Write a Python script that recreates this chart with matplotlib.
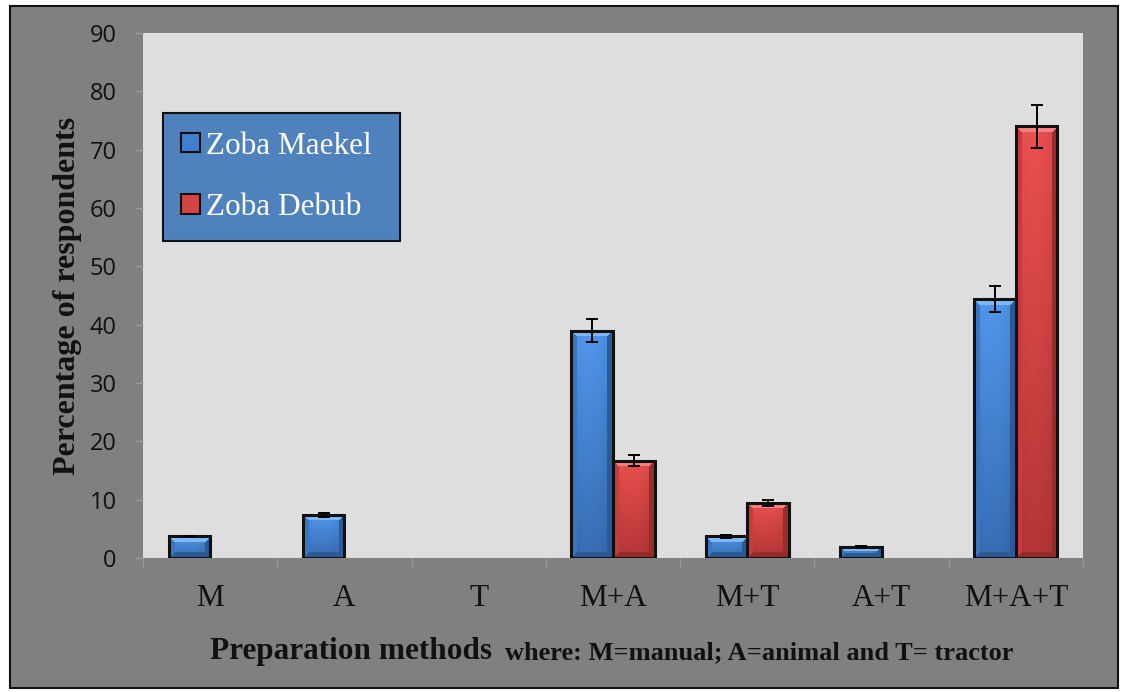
"""Soil preparation methods by zoba, grouped bar chart."""
import numpy as np
import matplotlib
matplotlib.use('Agg')
from matplotlib import pyplot as plt
from matplotlib.patches import Rectangle, Patch
from matplotlib.ticker import MultipleLocator

categories = ['M', 'A', 'T', 'M+A', 'M+T', 'A+T', 'M+A+T']
maekel = [3.7, 7.4, 0, 39.0, 3.7, 1.9, 44.4]
debub = [0, 0, 0, 16.7, 9.5, 0, 74.0]
maekel_err = [0.15, 0.4, 0, 1.9, 0.3, 0.1, 2.2]
debub_err = [0, 0, 0, 0.9, 0.5, 0, 3.7]
series_names = ['Zoba Maekel', 'Zoba Debub']

SERIF = 'Liberation Serif'
BLUE = dict(top='#4b8ddc', bot='#3466a8', hi='#7cbaf6', left='#3b76c2',
            right='#2b5a98', bottom='#2d5a92', legend='#3f80d0')
RED = dict(top='#dc4b4b', bot='#a83232', hi='#f58080', left='#c43c3c',
           right='#9c2a2a', bottom='#952828', legend='#d44444')


def rgb(c):
    return np.array(matplotlib.colors.to_rgb(c))


def bevel_image(w, h, pal, b=6):
    """Return an RGB array that looks like an Excel bevelled bar."""
    w, h = max(int(round(w)), 2), max(int(round(h)), 2)
    b = max(1, min(b, h // 2, w // 2))
    i = np.arange(h)[:, None] * np.ones((1, w))
    j = np.ones((h, 1)) * np.arange(w)[None, :]
    t = (i / (h - 1))[..., None]
    img = rgb(pal['top']) * (1 - t) + rgb(pal['bot']) * t
    # soft horizontal shading: lighter a bit left of centre
    u = j / (w - 1)
    shade = 1.0 + 0.07 * np.cos((u - 0.4) * np.pi)
    img = np.clip(img * shade[..., None], 0, 1)
    dists = np.stack([i, j, w - 1 - j, h - 1 - i])
    nearest = np.argmin(dists, axis=0)
    inside = dists.min(axis=0) < b
    for k, key in enumerate(['hi', 'left', 'right', 'bottom']):
        mask = inside & (nearest == k)
        img[mask] = rgb(pal[key])
    return img


def bevel_bars(ax, bars, pal):
    for patch in bars:
        x0, y0 = patch.get_x(), patch.get_y()
        x1, y1 = x0 + patch.get_width(), y0 + patch.get_height()
        if patch.get_height() <= 0:
            continue
        (px0, py0), (px1, py1) = ax.transData.transform([(x0, y0), (x1, y1)])
        img = bevel_image(px1 - px0, py1 - py0, pal)
        ax.imshow(img, extent=(x0, x1, y0, y1), origin='upper',
                  aspect='auto', interpolation='nearest', zorder=2)


fig = plt.figure(figsize=(11.22, 6.92), dpi=100, facecolor='white')
fig.patches.append(Rectangle((10 / 1122, 4 / 692), 1108 / 1122, 682 / 692,
                             transform=fig.transFigure, facecolor='#808080',
                             edgecolor='#111111', linewidth=1.5, zorder=-10))

ax = fig.add_axes([143 / 1122, 134 / 692, 940 / 1122, 525 / 692])
ax.set_facecolor('#dedede')
for s in ax.spines.values():
    s.set_visible(False)

x = np.arange(len(categories))
width = 0.31
ax.set_xlim(-0.5, len(categories) - 0.5)
ax.set_ylim(0, 90)

groups = [(maekel, maekel_err, -width / 2, BLUE),
          (debub, debub_err, width / 2, RED)]
for vals, errs, off, pal in groups:
    edges = ['#111111' if v > 0 else 'none' for v in vals]
    bars = ax.bar(x + off, vals, width, facecolor='none', edgecolor=edges,
                  linewidth=2.2, zorder=3)
    bevel_bars(ax, bars, pal)
    keep = [k for k, v in enumerate(vals) if v > 0]
    ax.errorbar(x[keep] + off, np.array(vals)[keep],
                yerr=np.array(errs)[keep], fmt='none', ecolor='black',
                elinewidth=1.4, capsize=4.6, capthick=1.4, zorder=4)

ax.set_xlim(-0.5, len(categories) - 0.5)
ax.set_ylim(0, 90)

ax.yaxis.set_major_locator(MultipleLocator(10))
ax.tick_params(axis='y', length=6, width=1, color='#9a9a9a', pad=13,
               labelsize=17, labelcolor='#111111')
for lab in ax.get_yticklabels():
    lab.set_family('Open Sans')

ax.set_xticks(x)
ax.set_xticklabels(categories, fontsize=22.5, family=SERIF, color='#111111')
ax.set_xticks(np.arange(-0.5, len(categories)), minor=True)
ax.tick_params(axis='x', which='major', length=0, pad=19)
ax.tick_params(axis='x', which='minor', length=7, width=1, color='#979797')

ax.text(-0.0798, 0.5, 'Percentage of respondents', transform=ax.transAxes,
        rotation=90, ha='center', va='center', fontsize=23,
        fontweight='bold', family=SERIF, color='#111111')
ax.text(0.0713, -0.1924, 'Preparation methods', transform=ax.transAxes,
        ha='left', va='baseline', fontsize=22.5, fontweight='bold',
        family=SERIF, color='#111111')
ax.text(0.385, -0.1924, 'where: M=manual; A=animal and T= tractor',
        transform=ax.transAxes, ha='left', va='baseline', fontsize=19,
        fontweight='bold', family=SERIF, color='#111111')

handles = [Patch(facecolor=BLUE['legend'], edgecolor='#111111', linewidth=1.5),
           Patch(facecolor=RED['legend'], edgecolor='#111111', linewidth=1.5)]
leg = ax.legend(handles, series_names, loc='upper left', mode='expand',
                bbox_to_anchor=(0.021, 0.606, 0.252, 0.242), borderaxespad=0,
                prop={'family': SERIF, 'size': 22.5}, labelcolor='white',
                facecolor='#4f81bd', edgecolor='#111111', framealpha=1,
                fancybox=False, handlelength=0.6, handleheight=0.6,
                handletextpad=0.2, labelspacing=1.05, borderpad=0.6)
leg.get_frame().set_linewidth(1.5)
leg.set_zorder(5)

fig.savefig('out.png', dpi=100, facecolor=fig.get_facecolor())
